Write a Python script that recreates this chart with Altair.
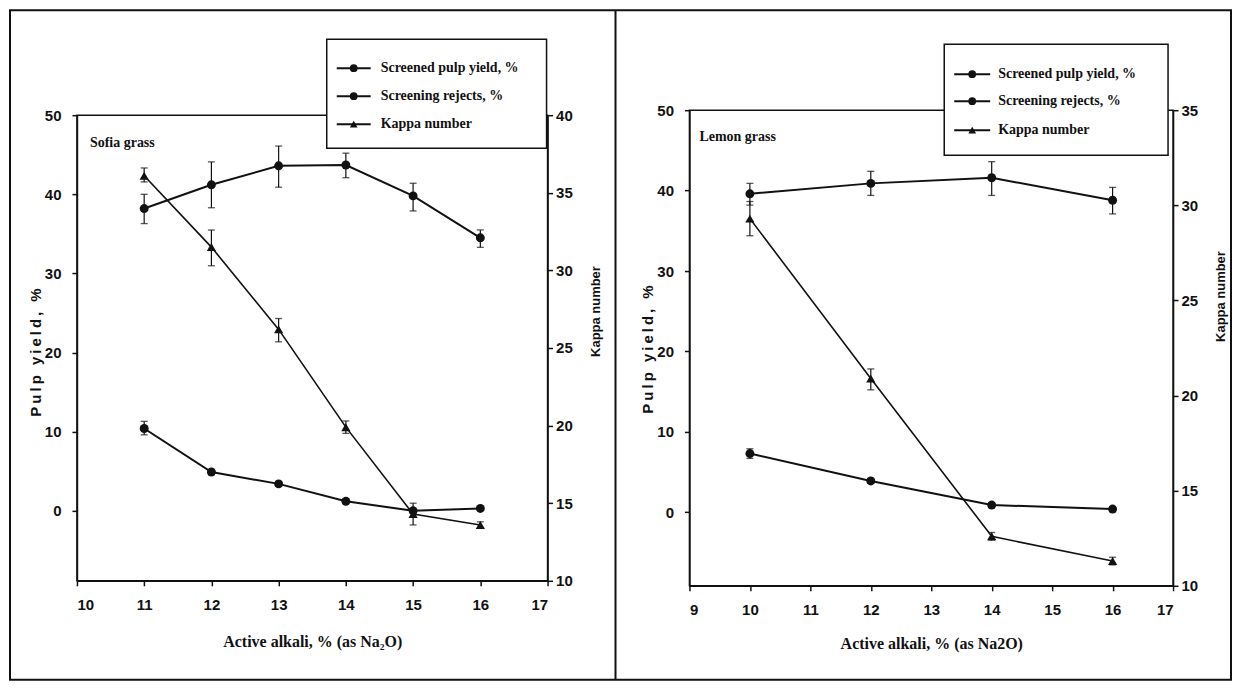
import altair as alt
import pandas as pd

# ---------------- data : Sofia grass (left panel) ----------------
sofia_alkali = [11, 12, 13, 14, 15, 16]
sofia_yield = [38.2, 41.2, 43.6, 43.7, 39.8, 34.5]
sofia_yield_lo = [36.3, 38.3, 40.9, 42.1, 37.9, 33.3]
sofia_yield_hi = [40.0, 44.1, 46.1, 45.2, 41.4, 35.5]
sofia_rejects = [10.4, 4.9, 3.4, 1.2, 0.0, 0.3]
sofia_rejects_lo = [9.6, 4.6, 3.1, 0.9, -0.3, 0.1]
sofia_rejects_hi = [11.3, 5.2, 3.7, 1.5, 0.3, 0.5]
sofia_kappa = [36.1, 31.5, 26.2, 19.9, 14.3, 13.6]
sofia_kappa_lo = [35.7, 30.3, 25.4, 19.5, 13.6, 13.4]
sofia_kappa_hi = [36.6, 32.6, 26.9, 20.3, 15.0, 13.8]

# ---------------- data : Lemon grass (right panel) ----------------
lemon_alkali = [10, 12, 14, 16]
lemon_yield = [39.6, 40.9, 41.6, 38.8]
lemon_yield_lo = [38.2, 39.4, 39.4, 37.1]
lemon_yield_hi = [40.9, 42.4, 43.6, 40.4]
lemon_rejects = [7.3, 3.9, 0.9, 0.4]
lemon_rejects_lo = [6.7, 3.6, 0.6, 0.1]
lemon_rejects_hi = [7.9, 4.2, 1.2, 0.7]
lemon_kappa = [29.3, 20.9, 12.6, 11.3]
lemon_kappa_lo = [28.4, 20.3, 12.4, 11.1]
lemon_kappa_hi = [30.2, 21.4, 12.8, 11.5]

series_names = ["Screened pulp yield, %", "Screening rejects, %", "Kappa number"]
series_shapes = ["circle", "circle", "triangle-up"]
yield_ticks = [0, 10, 20, 30, 40, 50]
sofia_x_ticks = [10, 11, 12, 13, 14, 15, 16, 17]
lemon_x_ticks = [9, 10, 11, 12, 13, 14, 15, 16, 17]
sofia_kappa_ticks = [10, 15, 20, 25, 30, 35, 40]
lemon_kappa_ticks = [10, 15, 20, 25, 30, 35]

# letter-spaced axis title as in the figure (thin spaces between letters)
YIELD_TITLE = "\u2009".join("Pulp yield, %")

SANS = "'Liberation Sans Narrow', 'Arial Narrow', 'Liberation Sans', sans-serif"
SANSW = "'Liberation Sans', Arial, sans-serif"
SERIF = "'Liberation Serif', 'Times New Roman', serif"
INK = "#111111"


def panel(name, alkali, yld, ylo, yhi, rej, rlo, rhi, kap, klo, khi,
          xdom, xticks, xtitle, ldom, rdom, rticks, W, H, g, frame=False):
    n = len(alkali)
    left_df = pd.DataFrame({
        "alkali": alkali + alkali,
        "series": [series_names[0]] * n + [series_names[1]] * n,
        "v": yld + rej, "lo": ylo + rlo, "hi": yhi + rhi})
    kap_df = pd.DataFrame({"alkali": alkali, "series": [series_names[2]] * n,
                           "v": kap, "lo": klo, "hi": khi})

    x = alt.X("alkali:Q", scale=alt.Scale(domain=xdom, nice=False, zero=False),
              axis=alt.Axis(values=xticks, title=xtitle, titleFont=SERIF,
                            titleFontSize=16, titleY=g["xt_y"], titleBaseline="middle",
                            labelPadding=12, format="d"))

    def yl(field):
        return alt.Y(f"{field}:Q", scale=alt.Scale(domain=ldom, nice=False, zero=False),
                     axis=alt.Axis(orient="left", values=yield_ticks, title=YIELD_TITLE,
                                   titleFont=SANSW, titleFontSize=15, titleAngle=270,
                                   titleX=g["lt_x"], titleY=g["lt_y"], titleBaseline="middle",
                                   labelPadding=11))

    def yr(field):
        return alt.Y(f"{field}:Q", scale=alt.Scale(domain=rdom, nice=False, zero=False),
                     axis=alt.Axis(orient="right", values=rticks, title="Kappa number",
                                   titleFont=SANSW, titleFontSize=13, titleAngle=270,
                                   titleX=g["rt_x"], titleY=g["rt_y"], titleBaseline="middle",
                                   labelPadding=3))

    def group(df, yf, shape, size, lw):
        b = alt.Chart(df)
        rule = b.mark_rule(color=INK, strokeWidth=1.2).encode(x=x, y=yf("lo"), y2="hi")
        cap_lo = b.mark_tick(color=INK, orient="horizontal", size=7, thickness=1.3).encode(x=x, y=yf("lo"))
        cap_hi = b.mark_tick(color=INK, orient="horizontal", size=7, thickness=1.3).encode(x=x, y=yf("hi"))
        line = b.mark_line(color=INK, strokeWidth=lw).encode(x=x, y=yf("v"), detail="series:N")
        pts = b.mark_point(filled=True, shape=shape, size=size, color=INK, opacity=1).encode(x=x, y=yf("v"))
        return alt.layer(rule, cap_lo, cap_hi, line, pts)

    layers = []
    one = pd.DataFrame({"label": [name]})
    if frame:
        layers.append(alt.Chart(one).mark_rect(fillOpacity=0, stroke=INK, strokeWidth=2).encode(
            x=alt.value(g["fr_x0"]), x2=alt.value(g["fr_x1"]),
            y=alt.value(g["fr_y0"]), y2=alt.value(g["fr_y1"])))
        layers.append(alt.Chart(one).mark_rule(color=INK, strokeWidth=2).encode(
            x=alt.value(g["fr_div"]), y=alt.value(g["fr_y0"]), y2=alt.value(g["fr_y1"])))

    layers.append(group(left_df, yl, "circle", 80, 2))
    layers.append(group(kap_df, yr, "triangle-up", 85, 1.6))

    # panel label
    layers.append(alt.Chart(one).mark_text(align="left", baseline="middle", font=SERIF,
                                           fontWeight="bold", fontSize=14, color=INK).encode(
        x=alt.value(g["lab"][0]), y=alt.value(g["lab"][1]), text="label:N"))

    # legend box
    layers.append(alt.Chart(one).mark_rect(fill="white", stroke=INK, strokeWidth=1.5).encode(
        x=alt.value(g["lg_x"][0]), x2=alt.value(g["lg_x"][1]),
        y=alt.value(g["lg_y"][0]), y2=alt.value(g["lg_y"][1])))
    for i, (nm, shp) in enumerate(zip(series_names, series_shapes)):
        yy = g["lg_rows"][i]
        d = pd.DataFrame({"label": [nm]})
        layers.append(alt.Chart(d).mark_rule(color=INK, strokeWidth=2).encode(
            x=alt.value(g["lg_line"][0]), x2=alt.value(g["lg_line"][1]), y=alt.value(yy)))
        layers.append(alt.Chart(d).mark_point(filled=True, shape=shp, size=60, color=INK, opacity=1).encode(
            x=alt.value((g["lg_line"][0] + g["lg_line"][1]) / 2), y=alt.value(yy)))
        layers.append(alt.Chart(d).mark_text(align="left", baseline="middle", font=SERIF,
                                             fontWeight="bold", fontSize=14, color=INK).encode(
            x=alt.value(g["lg_text"]), y=alt.value(yy), text="label:N"))

    return alt.layer(*layers).resolve_scale(y="independent").properties(width=W, height=H)


g_left = dict(xt_y=61, lt_x=-41, lt_y=237, rt_x=48, rt_y=196,
              lg_x=(250, 470), lg_y=(-76, 33), lg_rows=(-47, -19, 9),
              lg_line=(260, 294), lg_text=304, lab=(13, 28),
              fr_x0=-67, fr_x1=1155, fr_y0=-105, fr_y1=565, fr_div=539)
g_right = dict(xt_y=58, lt_x=-42, lt_y=239, rt_x=47, rt_y=186,
               lg_x=(255, 479), lg_y=(-66, 45), lg_rows=(-36, -9, 20),
               lg_line=(265, 301), lg_text=309, lab=(10, 27))

left = panel("Sofia grass", sofia_alkali, sofia_yield, sofia_yield_lo, sofia_yield_hi,
             sofia_rejects, sofia_rejects_lo, sofia_rejects_hi,
             sofia_kappa, sofia_kappa_lo, sofia_kappa_hi,
             [10, 17], sofia_x_ticks, "Active alkali, % (as Na₂O)",
             [-8.85, 50], [10, 40], sofia_kappa_ticks, 471, 466, g_left, frame=True)
right = panel("Lemon grass", lemon_alkali, lemon_yield, lemon_yield_lo, lemon_yield_hi,
              lemon_rejects, lemon_rejects_lo, lemon_rejects_hi,
              lemon_kappa, lemon_kappa_lo, lemon_kappa_hi,
              [9, 17], lemon_x_ticks, "Active alkali, % (as Na2O)",
              [-9.14, 50], [10, 35], lemon_kappa_ticks, 484, 476, g_right)

chart = alt.hconcat(left, right, spacing=142, bounds="flush", center=True).properties(
    padding=0, background="white"
).configure_view(stroke=INK, strokeWidth=1.5).configure_axis(
    grid=False, domainColor=INK, domainWidth=1.5, tickColor=INK, tickWidth=1.5, tickSize=5,
    labelFont=SANS, labelFontSize=15, labelFontWeight="bold", labelColor=INK,
    titleFontWeight="bold", titleColor=INK
)

chart.save("out.html", embed_options={"renderer": "svg", "actions": False})
